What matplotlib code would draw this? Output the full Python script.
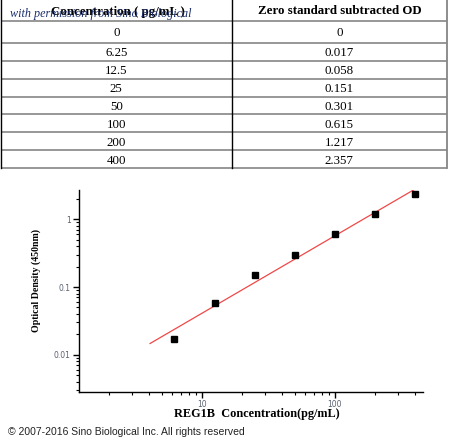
import numpy as np
import matplotlib
matplotlib.use("Agg")
import matplotlib.pyplot as plt
from matplotlib.ticker import FixedLocator, FixedFormatter, LogLocator, NullFormatter

# standard curve table
conc_labels = ["0", "6.25", "12.5", "25", "50", "100", "200", "400"]
od_labels = ["0", "0.017", "0.058", "0.151", "0.301", "0.615", "1.217", "2.357"]

# points on the log-log plot (zero standard left out)
conc = [6.25, 12.5, 25, 50, 100, 200, 400]
od = [0.017, 0.058, 0.151, 0.301, 0.615, 1.217, 2.357]

# fitted line ends
fit_x = [4.1, 400]
fit_y = [0.0146, 2.8]

W, H = 450, 442
fig = plt.figure(figsize=(W / 100, H / 100), dpi=100)

# ---- table drawn in pixel coordinates ----
tab = fig.add_axes([0, 0, 1, 1])
tab.set_xlim(0, W)
tab.set_ylim(H, 0)
tab.axis("off")

x_left, x_mid, x_right = 0.8, 231.7, 447
y_head = 21
y_first = 42.7
y_bottom = 168.3
nrows = len(conc_labels)
row_h = (y_bottom - y_first) / (nrows - 1)
row_lines = [y_head] + [y_first + i * row_h for i in range(nrows)]

for y in row_lines:
    tab.plot([x_left, x_right], [y, y], color="#858585", lw=1.2, solid_capstyle="butt")
tab.plot([x_left, x_left], [0, y_bottom], color="black", lw=1.0)
tab.plot([x_mid, x_mid], [0, y_bottom], color="black", lw=1.0)
tab.plot([x_right, x_right], [0, y_bottom], color="#858585", lw=1.3)

serif = ["Liberation Serif", "DejaVu Serif"]
tab.text((x_left + x_mid) / 2 + 2, 11.5, "Concentration ( pg/mL )", ha="center", va="center",
         fontsize=9.3, fontweight="bold", family=serif)
tab.text((x_mid + x_right) / 2, 11.5, "Zero standard subtracted OD", ha="center", va="center",
         fontsize=9.3, fontweight="bold", family=serif)
for i, (c, o) in enumerate(zip(conc_labels, od_labels)):
    yc = (row_lines[i] + row_lines[i + 1]) / 2 + 1.2
    tab.text((x_left + x_mid) / 2, yc, c, ha="center", va="center", fontsize=9.3, family=serif)
    tab.text((x_mid + x_right) / 2, yc, o, ha="center", va="center", fontsize=9.3, family=serif)

tab.text(10, 17.5, "with permission from Sino Biological", ha="left", va="baseline",
         fontsize=8.7, style="italic", color="#1c2f6b", family=serif)

tab.text(8, 432, "\u00a9 2007-2016 Sino Biological Inc. All rights reserved", ha="left",
         va="center", fontsize=7.5, color="#222222", family=["Liberation Sans", "DejaVu Sans"])

# ---- log-log standard curve ----
ax = fig.add_axes([79 / W, 1 - 392 / H, (423 - 79) / W, (392 - 190) / H])
ax.plot(fit_x, fit_y, color="#f04848", lw=0.9)
ax.plot(conc, od, ls="none", marker="s", ms=4.2, color="black")
ax.set_xscale("log")
ax.set_yscale("log")
ax.set_xlim(1.2, 460)
ax.set_ylim(0.0028, 2.72)

for s in ("top", "right"):
    ax.spines[s].set_visible(False)
for s in ("left", "bottom"):
    ax.spines[s].set_linewidth(1.0)

ax.xaxis.set_major_locator(FixedLocator([10, 100]))
ax.xaxis.set_major_formatter(FixedFormatter(["10", "100"]))
ax.xaxis.set_minor_locator(LogLocator(base=10, subs=np.arange(2, 10)))
ax.xaxis.set_minor_formatter(NullFormatter())
ax.yaxis.set_major_locator(FixedLocator([0.01, 0.1, 1]))
ax.yaxis.set_major_formatter(FixedFormatter(["0.01", "0.1", "1"]))
ax.yaxis.set_minor_locator(LogLocator(base=10, subs=np.arange(2, 10)))
ax.yaxis.set_minor_formatter(NullFormatter())
ax.tick_params(which="major", length=4, width=1.0, labelsize=5.5, labelcolor="#5a6070", pad=2)
ax.tick_params(which="minor", length=2.2, width=0.8)

ax.set_xlabel("REG1B  Concentration(pg/mL)", fontsize=8.8, fontweight="bold", family=serif)
ax.xaxis.set_label_coords(0.517, -0.08)
ax.set_ylabel("Optical Density (450nm)", fontsize=7.1, fontweight="bold", family=serif,
              va="center")
ax.yaxis.set_label_coords(-0.125, 0.554)

fig.savefig("out.png", dpi=100)
